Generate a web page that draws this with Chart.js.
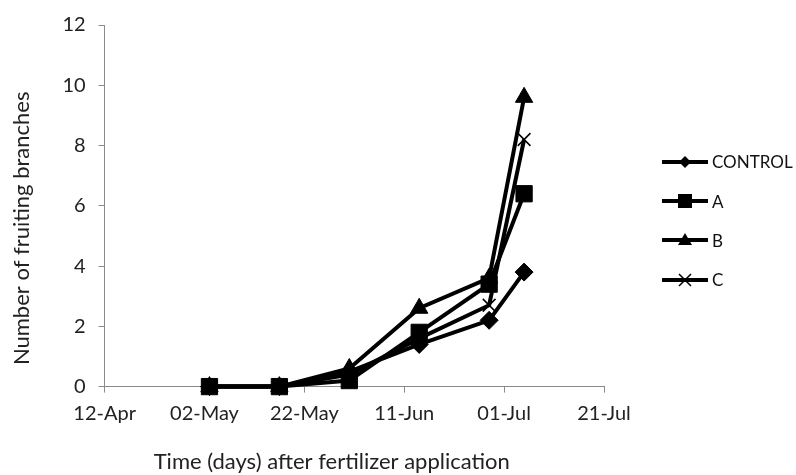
<!DOCTYPE html>
<html>
<head>
<meta charset="utf-8">
<script src="https://cdn.jsdelivr.net/npm/chart.js@4.4.0/dist/chart.umd.min.js"></script>
<style>
body { margin: 0; background: #fff; }
#wrap { width: 796px; height: 475px; }
</style>
</head>
<body>
<div id="wrap"><canvas id="lineChart"></canvas></div>
<script>
// data
var seriesNames = ['CONTROL', 'A', 'B', 'C'];
var sampleDates = ['03-May', '17-May', '31-May', '14-Jun', '28-Jun', '05-Jul'];
var controlValues = [0, 0, 0.5, 1.4, 2.2, 3.8];
var aValues = [0, 0, 0.2, 1.8, 3.4, 6.4];
var bValues = [0, 0, 0.6, 2.6, 3.6, 9.6];
var cValues = [0, 0, 0.4, 1.6, 2.7, 8.2];
var xTickLabels = ['12-Apr', '02-May', '22-May', '11-Jun', '01-Jul', '21-Jul'];
var yTicks = [0, 2, 4, 6, 8, 10, 12];

var monthStart = { Jan: 0, Feb: 31, Mar: 59, Apr: 90, May: 120, Jun: 151, Jul: 181, Aug: 212 };
function dayNum(label) {
	var p = label.split('-');
	return monthStart[p[1]] + parseInt(p[0], 10);
}
function toPoints(values) {
	return values.map(function (v, i) { return { x: dayNum(sampleDates[i]), y: v }; });
}

var styles = ['rectRot', 'rect', 'triangle', 'crossRot'];
var radii = [9, 11.5, 10, 9];
var drawOrder = [3, 0, 1, 2];
var allValues = [controlValues, aValues, bValues, cValues];

var font = "Lato, 'Open Sans', sans-serif";
var axisColor = '#8a8a8a';

// small canvas: line with marker, used as legend symbol
function legendIcon(style) {
	var c = document.createElement('canvas');
	c.width = 46; c.height = 16;
	var ctx = c.getContext('2d');
	var cx = 23, cy = 8;
	ctx.strokeStyle = '#000';
	ctx.fillStyle = '#000';
	ctx.lineWidth = 4;
	ctx.beginPath(); ctx.moveTo(0, cy); ctx.lineTo(46, cy); ctx.stroke();
	ctx.beginPath();
	if (style === 'rectRot') {
		ctx.moveTo(cx, cy - 6); ctx.lineTo(cx + 6, cy); ctx.lineTo(cx, cy + 6); ctx.lineTo(cx - 6, cy);
		ctx.closePath(); ctx.fill();
	} else if (style === 'rect') {
		ctx.fillRect(cx - 7, cy - 7, 14, 14);
	} else if (style === 'triangle') {
		ctx.moveTo(cx, cy - 7); ctx.lineTo(cx + 7, cy + 5); ctx.lineTo(cx - 7, cy + 5);
		ctx.closePath(); ctx.fill();
	} else {
		ctx.lineWidth = 1.5;
		ctx.moveTo(cx - 6, cy - 6); ctx.lineTo(cx + 6, cy + 6);
		ctx.moveTo(cx + 6, cy - 6); ctx.lineTo(cx - 6, cy + 6);
		ctx.stroke();
	}
	return c;
}

// legend to the right of the plot, Excel style (line + marker)
var lineLegend = {
	id: 'lineLegend',
	afterDraw: function (chart) {
		var ctx = chart.ctx, area = chart.chartArea;
		var ds = chart.data.datasets;
		var step = 39.3;
		var mid = (area.top + area.bottom) / 2 + 15;
		var x = area.right + 58;
		ctx.save();
		ctx.font = '17px ' + font;
		ctx.fillStyle = '#111';
		ctx.textBaseline = 'middle';
		ds.forEach(function (d, i) {
			var y = mid + (i - (ds.length - 1) / 2) * step;
			ctx.drawImage(legendIcon(styles[i]), x, Math.round(y) - 8);
			ctx.fillText(d.label, x + 50, y + 1);
		});
		ctx.restore();
	}
};

var datasets = seriesNames.map(function (name, i) {
	return {
		label: name,
		data: toPoints(allValues[i]),
		borderColor: '#000',
		backgroundColor: '#000',
		borderWidth: 4,
		pointStyle: styles[i],
		pointRadius: radii[i],
		pointHoverRadius: radii[i],
		pointBorderWidth: styles[i] === 'crossRot' ? 1.5 : 1,
		tension: 0,
		clip: false,
		order: drawOrder[i]
	};
});

var ctx = document.getElementById('lineChart').getContext('2d');
new Chart(ctx, {
	type: 'line',
	data: { datasets: datasets },
	plugins: [lineLegend],
	options: {
		responsive: true,
		maintainAspectRatio: false,
		animation: false,
		layout: { padding: { left: 5, right: 192, top: 23, bottom: 0 } },
		plugins: {
			tooltip: { enabled: false },
			legend: { display: false }
		},
		scales: {
			x: {
				type: 'linear',
				min: dayNum(xTickLabels[0]),
				max: dayNum(xTickLabels[xTickLabels.length - 1]),
				afterBuildTicks: function (axis) {
					axis.ticks = xTickLabels.map(function (l) { return { value: dayNum(l) }; });
				},
				ticks: {
					color: '#222',
					font: { family: font, size: 20 },
					maxRotation: 0,
					padding: 9,
					callback: function (v) {
						var i = xTickLabels.map(dayNum).indexOf(v);
						return i >= 0 ? xTickLabels[i] : '';
					}
				},
				grid: { drawOnChartArea: false, color: axisColor, tickLength: 6 },
				border: { color: axisColor },
				title: {
					display: true,
					// trailing spaces nudge the centred title left, as in the figure
					text: 'Time (days) after fertilizer application        ',
					color: '#222',
					font: { family: font, size: 22 },
					padding: { top: 14, bottom: 0 }
				}
			},
			y: {
				min: 0,
				max: 12,
				afterBuildTicks: function (axis) {
					axis.ticks = yTicks.map(function (v) { return { value: v }; });
				},
				ticks: { color: '#222', font: { family: font, size: 20 }, padding: 13 },
				grid: { drawOnChartArea: false, color: axisColor, tickLength: 6 },
				border: { color: axisColor },
				title: {
					display: true,
					// same trick: trailing spaces move the rotated title down a little
					text: 'Number of fruiting branches        ',
					color: '#222',
					font: { family: font, size: 22 },
					padding: { top: 4, bottom: 14 }
				}
			}
		}
	}
});
</script>
</body>
</html>
